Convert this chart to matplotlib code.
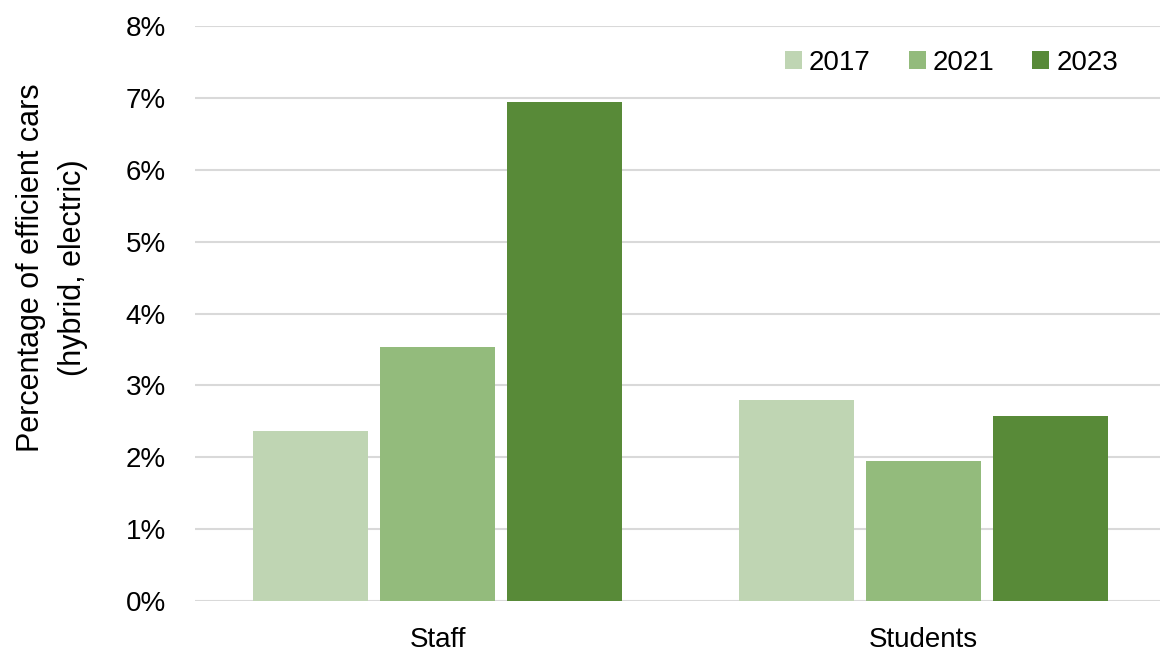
import numpy as np
import matplotlib.pyplot as plt

plt.rcParams['font.family'] = ['Liberation Sans', 'DejaVu Sans']

groups = ['Staff', 'Students']
years = ['2017', '2021', '2023']
share_2017 = [2.37, 2.80]
share_2021 = [3.54, 1.95]
share_2023 = [6.94, 2.58]
colors = ['#BFD5B3', '#93BB7C', '#588A38']

fig = plt.figure(figsize=(11.6, 6.53), dpi=100)
ax = fig.add_axes([195 / 1160, 52 / 653, 965 / 1160, 575 / 653])

x = np.arange(len(groups))
width = 0.237
step = 0.2616
for i, (vals, yr) in enumerate(zip([share_2017, share_2021, share_2023], years)):
    ax.bar(x + (i - 1) * step, vals, width, color=colors[i], label=yr, zorder=3)

ax.set_ylim(0, 8)
ax.set_xlim(-0.5, 1.488)
ax.set_yticks(range(0, 9))
ax.set_yticklabels([f'{v}%' for v in range(0, 9)])
ax.set_xticks(x)
ax.set_xticklabels(groups)
ax.yaxis.grid(True, color='#D9D9D9', linewidth=1.5, zorder=0)
for s in ax.spines.values():
    s.set_visible(False)
ax.tick_params(axis='both', length=0, labelsize=20)
ax.tick_params(axis='y', pad=21)
ax.tick_params(axis='x', pad=19)

fig.text(52 / 1160, 1 - 268 / 653, 'Percentage of efficient cars\n(hybrid, electric)',
         rotation=90, ha='center', va='center', multialignment='center',
         fontsize=22, linespacing=1.5)

ax.legend(loc='center right', bbox_to_anchor=(1118 / 1160, 1 - 63 / 653),
          bbox_transform=fig.transFigure, ncol=3, frameon=False, fontsize=20,
          handlelength=0.61, handleheight=0.61, handletextpad=0.25,
          columnspacing=1.37, borderaxespad=0, borderpad=0)

fig.savefig('out.png', dpi=100)
